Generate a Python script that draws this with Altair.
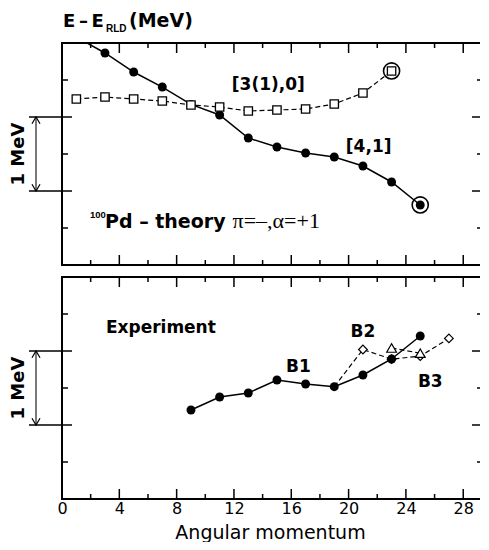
import altair as alt
import pandas as pd

# ---------------- data ----------------
# Theory, band [4,1] (filled circles)
th41_J = [1, 3, 5, 7, 9, 11, 13, 15, 17, 19, 21, 23, 25]
th41_E = [3.08, 2.865, 2.608, 2.405, 2.17, 2.027, 1.716, 1.595, 1.514, 1.459, 1.338, 1.122, 0.811]
# Theory, band [3(1),0] (open squares)
th310_J = [1, 3, 5, 7, 9, 11, 13, 15, 17, 19, 21, 23]
th310_E = [2.243, 2.270, 2.243, 2.216, 2.162, 2.135, 2.081, 2.095, 2.108, 2.176, 2.324, 2.622]
# circled terminating states
ring_J = [23, 25]
ring_E = [2.622, 0.811]
# Experiment: B1 (filled circles)
b1_J = [9, 11, 13, 15, 17, 19, 21, 23, 25]
b1_E = [1.203, 1.378, 1.432, 1.608, 1.554, 1.518, 1.676, 1.892, 2.203]
# B2 (open diamonds; branches off B1 at J=19)
b2_J = [19, 21, 23, 25, 27]
b2_E = [1.518, 2.02, 1.89, 1.93, 2.17]
# B3 (open triangles)
b3_J = [23, 25]
b3_E = [2.04, 1.97]

# tick values
x_labels = [0, 4, 8, 12, 16, 20, 24, 28]
x_major = [4, 8, 12, 16, 20, 24, 28]
x_minor = [2, 6, 10, 14, 18, 22, 26]
y_major = [1.0, 2.0]
y_minor = [0.5, 1.5, 2.5]
frame_E = [0.0, 3.0]

# ---------------- helpers ----------------
W, H = 419, 222
xs = alt.Scale(domain=[0, 29.24], nice=False, zero=False)
ys = alt.Scale(domain=[0, 3], nice=False, zero=False)
SANS = "DejaVu Sans"
NARROW = "Liberation Sans"
SERIF = "Liberation Serif"
one = pd.DataFrame({"k": [0]})

x_axis = alt.Axis(values=x_labels, domain=False, ticks=False, grid=False,
                  labelFontSize=16, labelFont=SANS, labelColor="black",
                  labelPadding=1, labelFlush=False,
                  title="Angular momentum", titleFont=SANS, titleFontSize=19,
                  titleFontWeight="normal", titleColor="black", titlePadding=7,
                  titleX=208)


def make(axis):
    def X():
        return alt.X("J:Q", scale=xs, axis=axis)

    def XD(v):
        return alt.XDatum(v, scale=xs, axis=axis)
    return X, XD


def Y():
    return alt.Y("E:Q", scale=ys, axis=None)


def YD(v):
    return alt.YDatum(v, scale=ys, axis=None)


def common(X, XD):
    L = []
    # frame (top, bottom, left)
    L.append(alt.Chart(pd.DataFrame({"E": frame_E})).mark_rule(color="black", strokeWidth=2)
             .encode(y=Y(), x=alt.value(0), x2=alt.value(W)))
    L.append(alt.Chart(one).mark_rule(color="black", strokeWidth=2)
             .encode(x=XD(0), y=alt.value(-1), y2=alt.value(H + 1)))
    # x ticks top and bottom, inward
    for vals, ln in ((x_major, 10), (x_minor, 5)):
        d = pd.DataFrame({"J": vals})
        L.append(alt.Chart(d).mark_rule(color="black", strokeWidth=1.5)
                 .encode(x=X(), y=alt.value(0), y2=alt.value(ln)))
        L.append(alt.Chart(d).mark_rule(color="black", strokeWidth=1.5)
                 .encode(x=X(), y=alt.value(H), y2=alt.value(H - ln)))
    # y ticks: left minor, right major/minor
    L.append(alt.Chart(pd.DataFrame({"E": y_minor})).mark_rule(color="black", strokeWidth=1.5)
             .encode(y=Y(), x=alt.value(0), x2=alt.value(6)))
    L.append(alt.Chart(pd.DataFrame({"E": y_minor})).mark_rule(color="black", strokeWidth=1.5)
             .encode(y=Y(), x=alt.value(W - 4), x2=alt.value(W)))
    L.append(alt.Chart(pd.DataFrame({"E": y_major})).mark_rule(color="black", strokeWidth=1.5)
             .encode(y=Y(), x=alt.value(W - 9), x2=alt.value(W)))
    # 1 MeV scale indicator
    L.append(alt.Chart(pd.DataFrame({"E": y_major})).mark_rule(color="black", strokeWidth=1.5)
             .encode(y=Y(), x=alt.value(-33), x2=alt.value(10)))
    L.append(alt.Chart(pd.DataFrame({"lo": [min(y_major)], "hi": [max(y_major)]}))
             .mark_rule(color="#333333", strokeWidth=1.3)
             .encode(y=alt.Y("lo:Q", scale=ys, axis=None), y2="hi:Q", x=alt.value(-26)))
    L.append(alt.Chart(pd.DataFrame({"E": [max(y_major)]}))
             .mark_point(shape="M -0.6 1 L 0 0 L 0.6 1", filled=False, color="black",
                         strokeWidth=1.2, size=180, opacity=1)
             .encode(y=Y(), x=alt.value(-26)))
    L.append(alt.Chart(pd.DataFrame({"E": [min(y_major)]}))
             .mark_point(shape="M -0.6 -1 L 0 0 L 0.6 -1", filled=False, color="black",
                         strokeWidth=1.2, size=180, opacity=1)
             .encode(y=Y(), x=alt.value(-26)))
    L.append(alt.Chart(one).mark_text(text="1 MeV", angle=270, font=SANS, fontSize=18,
                                      fontWeight="bold", color="black",
                                      align="center", baseline="middle")
             .encode(x=alt.value(-43), y=YD(1.5)))
    return L


def label(XD, s, xv, yv, size=17, weight="bold", font=SANS, align="center", baseline="middle"):
    return alt.Chart(one).mark_text(text=s, font=font, fontSize=size, fontWeight=weight,
                                    color="black", align=align, baseline=baseline) \
        .encode(x=XD(xv), y=YD(yv))


def vlabel(s, px, py, size, font=SANS):
    return alt.Chart(one).mark_text(text=s, font=font, fontSize=size, fontWeight="bold",
                                    color="black", align="left", baseline="alphabetic") \
        .encode(x=alt.value(px), y=alt.value(py))


# ---------------- top panel (theory) ----------------
Xt, XDt = make(None)
t41 = pd.DataFrame({"J": th41_J, "E": th41_E})
t310 = pd.DataFrame({"J": th310_J, "E": th310_E})
rings = pd.DataFrame({"J": ring_J, "E": ring_E})

top_layers = common(Xt, XDt) + [
    vlabel("E\u2009\u2013\u2009E", 1, -16, 18),
    vlabel("RLD", 44, -11, 10, font=NARROW),
    vlabel("(MeV)", 67, -16, 19),
    label(XDt, "[3(1),0]", 14.4, 2.43),
    label(XDt, "[4,1]", 21.4, 1.59),
    label(XDt, "100", 1.95, 0.635, size=9.5, font=NARROW, align="left", baseline="alphabetic"),
    label(XDt, "Pd \u2013 theory", 3.0, 0.5, size=19, align="left", baseline="alphabetic"),
    label(XDt, "\u03c0=\u2013,\u03b1=+1", 11.9, 0.5, size=22, weight="normal", font=SERIF,
          align="left", baseline="alphabetic"),
    alt.Chart(t41).mark_line(color="black", strokeWidth=1.5, clip=True).encode(x=Xt(), y=Y()),
    alt.Chart(t41).mark_point(shape="circle", filled=True, color="black", size=80,
                              opacity=1, clip=True).encode(x=Xt(), y=Y()),
    alt.Chart(t310).mark_line(color="black", strokeWidth=1.2, strokeDash=[5, 3], clip=True)
    .encode(x=Xt(), y=Y()),
    alt.Chart(t310).mark_point(shape="square", filled=True, fill="white", stroke="black",
                               strokeWidth=1.3, size=70, opacity=1, clip=True)
    .encode(x=Xt(), y=Y()),
    alt.Chart(rings).mark_point(shape="circle", filled=False, color="black", strokeWidth=1.6,
                                size=260, opacity=1).encode(x=Xt(), y=Y()),
]
top = alt.layer(*top_layers).properties(width=W, height=H)

# ---------------- bottom panel (experiment) ----------------
Xb, XDb = make(x_axis)
eb1 = pd.DataFrame({"J": b1_J, "E": b1_E})
eb2 = pd.DataFrame({"J": b2_J, "E": b2_E})
eb3 = pd.DataFrame({"J": b3_J, "E": b3_E})

bot_layers = common(Xb, XDb) + [
    label(XDb, "Experiment", 6.9, 2.31),
    label(XDb, "B1", 16.5, 1.78),
    label(XDb, "B2", 21.0, 2.26),
    label(XDb, "B3", 25.7, 1.58),
    alt.Chart(eb2).mark_line(color="black", strokeWidth=1.2, strokeDash=[5, 3])
    .encode(x=Xb(), y=Y()),
    alt.Chart(eb3).mark_line(color="black", strokeWidth=1.2, strokeDash=[5, 3])
    .encode(x=Xb(), y=Y()),
    alt.Chart(eb2).transform_filter(alt.datum.J > b2_J[0])
    .mark_point(shape="diamond", filled=True, fill="white", stroke="black", strokeWidth=1.2,
                size=75, opacity=1).encode(x=Xb(), y=Y()),
    alt.Chart(eb1).mark_line(color="black", strokeWidth=1.5).encode(x=Xb(), y=Y()),
    alt.Chart(eb1).mark_point(shape="circle", filled=True, color="black", size=80, opacity=1)
    .encode(x=Xb(), y=Y()),
    alt.Chart(eb3).mark_point(shape="triangle-up", filled=True, fill="white", stroke="black",
                              strokeWidth=1.2, size=95, opacity=1).encode(x=Xb(), y=Y()),
]
bottom = alt.layer(*bot_layers).properties(width=W, height=H)

chart = alt.vconcat(top, bottom, spacing=12, bounds="flush").properties(
    padding={"left": 2, "top": 4, "right": -2, "bottom": 0},
    background="white"
).configure_view(stroke=None)

chart.save("out.html", embed_options={"renderer": "svg", "actions": False})
